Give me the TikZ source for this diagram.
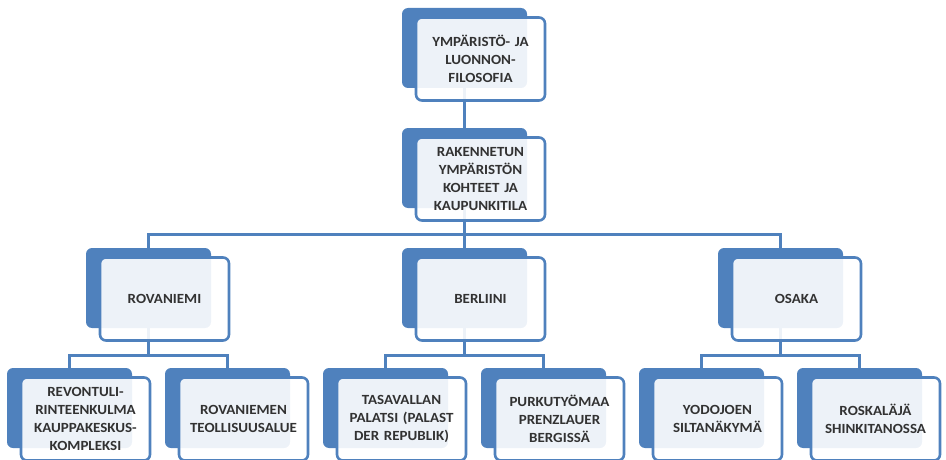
\documentclass[tikz,border=0pt]{standalone}
\usepackage{fontspec}
\setmainfont{Carlito}[FakeStretch=1.07]
\usetikzlibrary{calc}
\definecolor{smartblue}{RGB}{79,129,189}
\definecolor{textgray}{RGB}{50,50,50}
\tikzset{
  backbox/.style={fill=smartblue, rounded corners=6pt, minimum width=125pt, minimum height=80pt, inner sep=0pt},
  frontbox/.style={draw=smartblue, line width=2.6pt, fill=white, fill opacity=0.9, text opacity=1,
    rounded corners=6pt, minimum width=129pt, minimum height=83pt, inner sep=0pt,
    text width=124pt, align=center, text=textgray, font=\fontsize{14}{17.7}\selectfont\bfseries},
  link/.style={draw=smartblue, line width=2.6pt}
}

\begin{document}
\begin{tikzpicture}[x=1pt,y=-1pt]
			\useasboundingbox (0,0) rectangle (946,460);
			%%%%% BACK BOXES %%%%%
			\node[backbox] (b1) at (464.5,48) {};
			\node[backbox] (b2) at (464.5,168) {};
			
			\node[backbox] (b3a) at (148.5,288) {};
			\node[backbox] (b3b) at (464.5,288) {};
			\node[backbox] (b3c) at (780.5,288) {};
			
			\node[backbox] (b4a) at (69.5,408) {};
			\node[backbox] (b4b) at (227.5,408) {};
			\node[backbox] (b4c) at (385.5,408) {};
			\node[backbox] (b4d) at (543.5,408) {};
			\node[backbox] (b4e) at (701.5,408) {};
			\node[backbox] (b4f) at (859.5,408) {};
			
			%%%%% LINKS %%%%%
			\draw[link] (b1.south) -- (b2.north);
			\draw[link] (b2.south) -- ++(0,26) coordinate (j2) -| (b3a.north) (j2) -| (b3c.north) (j2) -- (b3b.north);
			\draw[link] (b3a.south) -- ++(0,27) coordinate (j3a) -| (b4a.north) (j3a) -| (b4b.north);
			\draw[link] (b3b.south) -- ++(0,27) coordinate (j3b) -| (b4c.north) (j3b) -| (b4d.north);
			\draw[link] (b3c.south) -- ++(0,27) coordinate (j3c) -| (b4e.north) (j3c) -| (b4f.north);
			
			%%%%% FRONT BOXES %%%%%
			\node[frontbox] (f1) at ([shift={(16,11)}]b1) {YMPÄRISTÖ- JA\\LUONNON-\\FILOSOFIA};
			\node[frontbox] (f2) at ([shift={(16,11)}]b2) {RAKENNETUN\\YMPÄRISTÖN\\KOHTEET JA\\KAUPUNKITILA};
			
			\node[frontbox] (f3a) at ([shift={(16,11)}]b3a) {ROVANIEMI};
			\node[frontbox] (f3b) at ([shift={(16,11)}]b3b) {BERLIINI};
			\node[frontbox] (f3c) at ([shift={(16,11)}]b3c) {OSAKA};
			
			\node[frontbox] (f4a) at ([shift={(16,11)}]b4a) {REVONTULI-\\RINTEENKULMA\\KAUPPAKESKUS-\\KOMPLEKSI};
			\node[frontbox] (f4b) at ([shift={(16,11)}]b4b) {ROVANIEMEN\\TEOLLISUUSALUE};
			\node[frontbox] (f4c) at ([shift={(16,11)}]b4c) {TASAVALLAN\\PALATSI (PALAST\\DER REPUBLIK)};
			\node[frontbox] (f4d) at ([shift={(16,11)}]b4d) {PURKUTYÖMAA\\PRENZLAUER\\BERGISSÄ};
			\node[frontbox] (f4e) at ([shift={(16,11)}]b4e) {YODOJOEN\\SILTANÄKYMÄ};
			\node[frontbox] (f4f) at ([shift={(16,11)}]b4f) {ROSKALÄJÄ\\SHINKITANOSSA};
			%%%%% END %%%%%
\end{tikzpicture}
\end{document}
